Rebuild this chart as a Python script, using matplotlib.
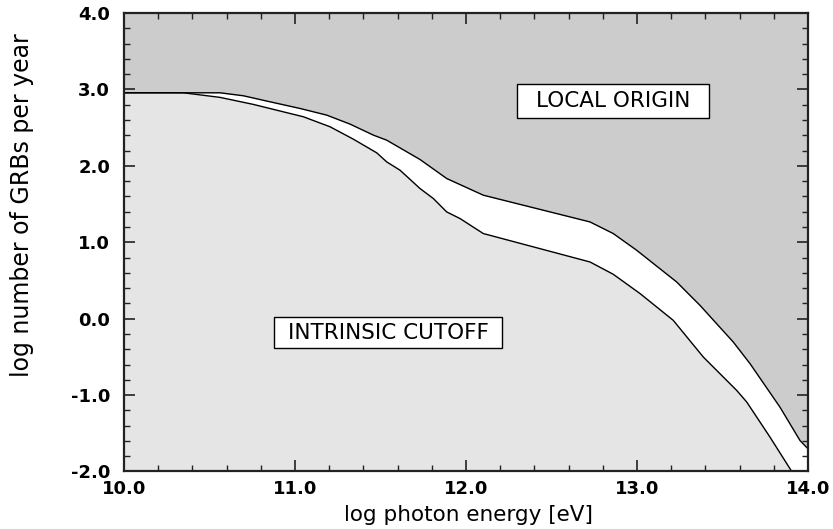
import matplotlib
matplotlib.use("Agg")
import matplotlib.pyplot as plt
from matplotlib.patches import Rectangle
from matplotlib.ticker import MultipleLocator, FormatStrFormatter

# Upper boundary (local origin limit)
upper_x = [10.0, 10.561, 10.698, 10.854, 11.029, 11.185, 11.322, 11.458, 11.536,
           11.731, 11.887, 12.101, 12.725, 12.861, 12.998, 13.232, 13.368, 13.563,
           13.661, 13.836, 13.953, 14.0]
upper_y = [2.956, 2.956, 2.917, 2.838, 2.751, 2.664, 2.546, 2.402, 2.336,
           2.083, 1.834, 1.616, 1.266, 1.114, 0.895, 0.48, 0.175, -0.306,
           -0.589, -1.158, -1.594, -1.703]

# Lower boundary (intrinsic cutoff)
lower_x = [10.0, 10.347, 10.561, 10.756, 11.049, 11.205, 11.341, 11.478, 11.536,
           11.614, 11.731, 11.809, 11.887, 11.965, 12.101, 12.725, 12.861, 13.018,
           13.212, 13.388, 13.583, 13.642, 13.778, 13.905]
lower_y = [2.956, 2.956, 2.896, 2.804, 2.642, 2.511, 2.349, 2.17, 2.052,
           1.943, 1.703, 1.572, 1.397, 1.31, 1.114, 0.742, 0.581, 0.328,
           -0.022, -0.503, -0.939, -1.092, -1.551, -2.0]

labels = ["LOCAL ORIGIN", "INTRINSIC CUTOFF"]
label_pos = [(12.86, 2.847), (11.544, -0.186)]
label_box = [(1.123, 0.446), (1.334, 0.406)]  # box width, height (data units)

plt.rcParams['font.family'] = ['DejaVu Sans']

fig = plt.figure(figsize=(8.33, 5.29), dpi=100)
ax = fig.add_axes([0.1489, 0.1087, 0.8211, 0.8667])

ax.set_facecolor('#cccccc')
ax.fill_between(upper_x, upper_y, -2.0, color='white', lw=0)
ax.fill_between(lower_x, lower_y, -2.0, color='#e5e5e5', lw=0)
ax.plot(upper_x, upper_y, color='black', lw=1.0)
ax.plot(lower_x, lower_y, color='black', lw=1.0)

ax.set_xlim(10.0, 14.0)
ax.set_ylim(-2.0, 4.0)
ax.xaxis.set_major_locator(MultipleLocator(1.0))
ax.xaxis.set_minor_locator(MultipleLocator(0.2))
ax.yaxis.set_major_locator(MultipleLocator(1.0))
ax.yaxis.set_minor_locator(MultipleLocator(0.2))
ax.xaxis.set_major_formatter(FormatStrFormatter('%.1f'))
ax.yaxis.set_major_formatter(FormatStrFormatter('%.1f'))

ax.tick_params(which='both', direction='in', top=True, right=True, color='#222222')
ax.tick_params(which='major', length=8, width=1.2, labelsize=13)
ax.tick_params(which='minor', length=4.5, width=1.0)
ax.tick_params(axis='x', which='major', pad=6)
ax.tick_params(axis='y', which='major', pad=10)
for lab in ax.get_xticklabels() + ax.get_yticklabels():
    lab.set_fontweight('bold')

for s in ax.spines.values():
    s.set_linewidth(1.6)
    s.set_color('#222222')

ax.set_xlabel('log photon energy [eV]', fontsize=15.5)
ax.xaxis.set_label_coords(0.504, -0.072)
ax.set_ylabel('log number of GRBs per year', fontsize=17)
ax.yaxis.set_label_coords(-0.131, 0.581)

for txt, (tx, ty), (bw, bh) in zip(labels, label_pos, label_box):
    ax.add_patch(Rectangle((tx - bw / 2, ty - bh / 2), bw, bh, facecolor='white',
                           edgecolor='black', lw=1.0, zorder=3))
    ax.text(tx, ty, txt, ha='center', va='center', fontsize=15.5, zorder=4)

fig.savefig('out.png', dpi=100)
